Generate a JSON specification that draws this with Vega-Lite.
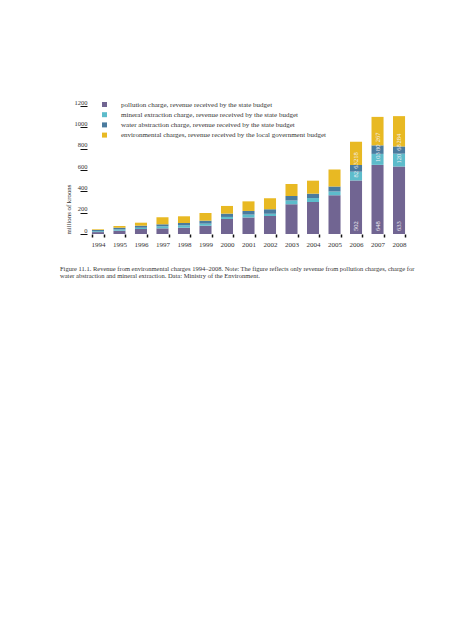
{
  "$schema": "https://vega.github.io/schema/vega-lite/v6.json",
  "width": 323,
  "height": 128,
  "autosize": {"type": "none"},
  "padding": {"left": 87, "top": 106, "right": 43, "bottom": 406},
  "background": "white",
  "config": {"font": "Liberation Serif", "view": {"stroke": null}},
  "title": {
    "text": ["Figure 11.1. Revenue from environmental charges 1994–2008. Note: The figure reflects only revenue from pollution charges, charge for", "water abstraction and mineral extraction. Data: Ministry of the Environment."],
    "orient": "bottom", "anchor": "start", "dx": -5, "offset": 19, "limit": 0,
    "fontSize": 6.5, "fontWeight": "normal", "color": "#333", "lineHeight": 7, "font": "Liberation Serif"
  },
  "data": {"values": [
    {"year": 1994, "charge": "pollution charge, revenue received by the state budget", "value": 18},
    {"year": 1994, "charge": "mineral extraction charge, revenue received by the state budget", "value": 8},
    {"year": 1994, "charge": "water abstraction charge, revenue received by the state budget", "value": 12},
    {"year": 1994, "charge": "environmental charges, revenue received by the local government budget", "value": 6},
    {"year": 1995, "charge": "pollution charge, revenue received by the state budget", "value": 31},
    {"year": 1995, "charge": "mineral extraction charge, revenue received by the state budget", "value": 12},
    {"year": 1995, "charge": "water abstraction charge, revenue received by the state budget", "value": 16},
    {"year": 1995, "charge": "environmental charges, revenue received by the local government budget", "value": 16},
    {"year": 1996, "charge": "pollution charge, revenue received by the state budget", "value": 47},
    {"year": 1996, "charge": "mineral extraction charge, revenue received by the state budget", "value": 12},
    {"year": 1996, "charge": "water abstraction charge, revenue received by the state budget", "value": 19},
    {"year": 1996, "charge": "environmental charges, revenue received by the local government budget", "value": 28},
    {"year": 1997, "charge": "pollution charge, revenue received by the state budget", "value": 53},
    {"year": 1997, "charge": "mineral extraction charge, revenue received by the state budget", "value": 19},
    {"year": 1997, "charge": "water abstraction charge, revenue received by the state budget", "value": 19},
    {"year": 1997, "charge": "environmental charges, revenue received by the local government budget", "value": 66},
    {"year": 1998, "charge": "pollution charge, revenue received by the state budget", "value": 59},
    {"year": 1998, "charge": "mineral extraction charge, revenue received by the state budget", "value": 22},
    {"year": 1998, "charge": "water abstraction charge, revenue received by the state budget", "value": 22},
    {"year": 1998, "charge": "environmental charges, revenue received by the local government budget", "value": 63},
    {"year": 1999, "charge": "pollution charge, revenue received by the state budget", "value": 78},
    {"year": 1999, "charge": "mineral extraction charge, revenue received by the state budget", "value": 19},
    {"year": 1999, "charge": "water abstraction charge, revenue received by the state budget", "value": 28},
    {"year": 1999, "charge": "environmental charges, revenue received by the local government budget", "value": 72},
    {"year": 2000, "charge": "pollution charge, revenue received by the state budget", "value": 141},
    {"year": 2000, "charge": "mineral extraction charge, revenue received by the state budget", "value": 19},
    {"year": 2000, "charge": "water abstraction charge, revenue received by the state budget", "value": 31},
    {"year": 2000, "charge": "environmental charges, revenue received by the local government budget", "value": 72},
    {"year": 2001, "charge": "pollution charge, revenue received by the state budget", "value": 155},
    {"year": 2001, "charge": "mineral extraction charge, revenue received by the state budget", "value": 27},
    {"year": 2001, "charge": "water abstraction charge, revenue received by the state budget", "value": 34},
    {"year": 2001, "charge": "environmental charges, revenue received by the local government budget", "value": 90},
    {"year": 2002, "charge": "pollution charge, revenue received by the state budget", "value": 168},
    {"year": 2002, "charge": "mineral extraction charge, revenue received by the state budget", "value": 22},
    {"year": 2002, "charge": "water abstraction charge, revenue received by the state budget", "value": 43},
    {"year": 2002, "charge": "environmental charges, revenue received by the local government budget", "value": 102},
    {"year": 2003, "charge": "pollution charge, revenue received by the state budget", "value": 280},
    {"year": 2003, "charge": "mineral extraction charge, revenue received by the state budget", "value": 35},
    {"year": 2003, "charge": "water abstraction charge, revenue received by the state budget", "value": 41},
    {"year": 2003, "charge": "environmental charges, revenue received by the local government budget", "value": 113},
    {"year": 2004, "charge": "pollution charge, revenue received by the state budget", "value": 300},
    {"year": 2004, "charge": "mineral extraction charge, revenue received by the state budget", "value": 37},
    {"year": 2004, "charge": "water abstraction charge, revenue received by the state budget", "value": 41},
    {"year": 2004, "charge": "environmental charges, revenue received by the local government budget", "value": 122},
    {"year": 2005, "charge": "pollution charge, revenue received by the state budget", "value": 364},
    {"year": 2005, "charge": "mineral extraction charge, revenue received by the state budget", "value": 35},
    {"year": 2005, "charge": "water abstraction charge, revenue received by the state budget", "value": 47},
    {"year": 2005, "charge": "environmental charges, revenue received by the local government budget", "value": 159},
    {"year": 2006, "charge": "pollution charge, revenue received by the state budget", "value": 502},
    {"year": 2006, "charge": "mineral extraction charge, revenue received by the state budget", "value": 82},
    {"year": 2006, "charge": "water abstraction charge, revenue received by the state budget", "value": 63},
    {"year": 2006, "charge": "environmental charges, revenue received by the local government budget", "value": 218},
    {"year": 2007, "charge": "pollution charge, revenue received by the state budget", "value": 648},
    {"year": 2007, "charge": "mineral extraction charge, revenue received by the state budget", "value": 103},
    {"year": 2007, "charge": "water abstraction charge, revenue received by the state budget", "value": 80},
    {"year": 2007, "charge": "environmental charges, revenue received by the local government budget", "value": 267},
    {"year": 2008, "charge": "pollution charge, revenue received by the state budget", "value": 633},
    {"year": 2008, "charge": "mineral extraction charge, revenue received by the state budget", "value": 120},
    {"year": 2008, "charge": "water abstraction charge, revenue received by the state budget", "value": 68},
    {"year": 2008, "charge": "environmental charges, revenue received by the local government budget", "value": 284}
  ]},
  "transform": [{"stack": "value", "groupby": ["year"], "as": ["v0", "v1"]}],
  "encoding": {
    "x": {
      "field": "year", "type": "ordinal",
      "scale": {"paddingInner": 0.44, "paddingOuter": 0.23},
      "axis": {
        "title": null, "domain": false, "ticks": true, "tickBand": "extent",
        "tickSize": 3, "tickWidth": 1.5, "tickColor": "#111",
        "labelAngle": 0, "labelFontSize": 7, "labelColor": "#333", "labelPadding": 3,
        "labelFont": "Liberation Serif"
      }
    },
    "y": {
      "field": "v0", "type": "quantitative", "stack": null,
      "scale": {"domain": [0, 1200], "nice": false},
      "axis": {
        "title": "millions of kroons", "values": [0, 200, 400, 600, 800, 1000, 1200], "format": "d",
        "domain": false, "grid": false, "ticks": true, "tickSize": 7, "tickColor": "#111", "tickWidth": 1,
        "labelPadding": -7, "labelBaseline": "bottom", "labelOffset": -1,
        "labelFontSize": 6.5, "labelColor": "#333", "labelFont": "Liberation Serif",
        "titleFontSize": 6.8, "titleFontWeight": "normal", "titleColor": "#333", "titleFont": "Liberation Serif",
        "titleX": -19, "titleY": 128, "titleAngle": 270, "titleAlign": "left", "titleBaseline": "middle"
      }
    }
  },
  "layer": [
    {
      "mark": {"type": "bar"},
      "encoding": {
        "y2": {"field": "v1"},
        "color": {
          "field": "charge", "type": "nominal",
          "scale": {
            "domain": [
              "pollution charge, revenue received by the state budget",
              "mineral extraction charge, revenue received by the state budget",
              "water abstraction charge, revenue received by the state budget",
              "environmental charges, revenue received by the local government budget"
            ],
            "range": ["#716592", "#5dbccb", "#4a7b9e", "#e8b923"]
          },
          "legend": {
            "title": null, "orient": "none", "legendX": 14, "legendY": -5,
            "symbolType": "square", "symbolSize": 25, "symbolStrokeWidth": 0, "symbolOpacity": 1,
            "labelFontSize": 7, "labelFont": "Liberation Serif", "labelColor": "#333",
            "labelOffset": 13, "labelLimit": 400, "rowPadding": 2.2, "padding": 0
          }
        }
      }
    },
    {
      "transform": [{"filter": "datum.year >= 2006"}],
      "mark": {"type": "text", "angle": 270, "align": "left", "baseline": "middle", "dx": 3, "color": "#f4f1f6", "fontSize": 6.5, "font": "Liberation Serif"},
      "encoding": {"text": {"field": "value", "type": "quantitative"}}
    }
  ]
}
